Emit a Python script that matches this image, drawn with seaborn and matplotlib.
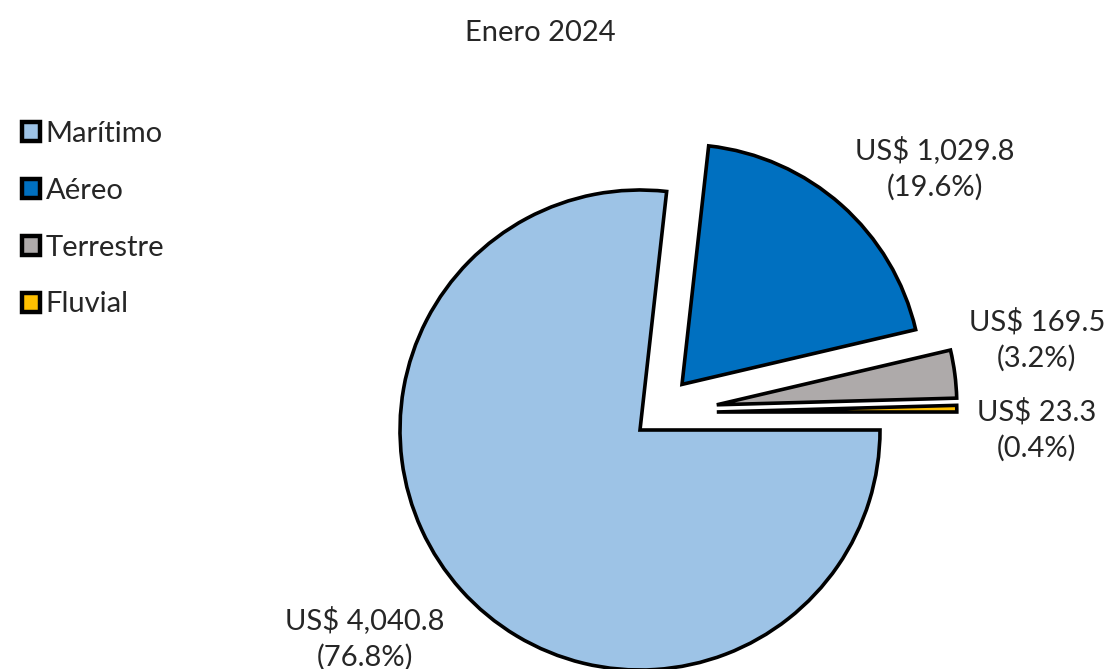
import matplotlib.pyplot as plt
import seaborn as sns

# Exports by transport mode, January 2024 (US$ millions)
modes = ["Marítimo", "Aéreo", "Terrestre", "Fluvial"]
values = [4040.8, 1029.8, 169.5, 23.3]
shares = [76.8, 19.6, 3.2, 0.4]
colors = ["#9DC3E6", "#0070C0", "#AEAAAA", "#FFC000"]

# slice offsets as Excel draws them (in pie radii)
offsets = [(0.0, 0.0), (0.175, 0.19), (0.32, 0.105), (0.32, 0.075)]

sns.set_theme(style="white")
plt.rcParams["font.family"] = ["Lato", "DejaVu Sans"]

fig = plt.figure(figsize=(11.04, 6.69), dpi=100)
ax = fig.add_axes([0, 0, 1, 1])

wedges, _ = ax.pie(
    values,
    colors=colors,
    startangle=0,
    counterclock=False,
    radius=1.0,
    wedgeprops={"edgecolor": "black", "linewidth": 2.6, "joinstyle": "miter"},
)
for w, (dx, dy) in zip(wedges, offsets):
    w.set_center((dx, dy))

# map figure pixels: pie centre at (640, 430), radius 240 px
ax.set_xlim(-640 / 240, (1104 - 640) / 240)
ax.set_ylim((430 - 669) / 240, 430 / 240)
ax.set_aspect("auto")
ax.axis("off")

fs = 21
fig.text(540 / 1104, 1 - 33 / 669, "Enero 2024", ha="center", va="center", fontsize=fs)

label_pos = [(365, 638), (935, 168), (1037, 340), (1037, 430)]
for (px, py), v, s in zip(label_pos, values, shares):
    fig.text(px / 1104, 1 - py / 669, f"US$ {v:,.1f}\n({s}%)",
             ha="center", va="center", fontsize=fs, linespacing=1.45)

leg = ax.legend(
    wedges, modes,
    loc="upper left",
    bbox_to_anchor=(10 / 1104, 1 - 109 / 669),
    bbox_transform=fig.transFigure,
    frameon=False,
    fontsize=fs,
    handlelength=0.62,
    handleheight=0.62,
    handletextpad=0.2,
    labelspacing=1.06,
    borderaxespad=0,
)
for h in leg.legend_handles:
    h.set_linewidth(3.2)

fig.savefig("out.png", dpi=100)
plt.close(fig)
